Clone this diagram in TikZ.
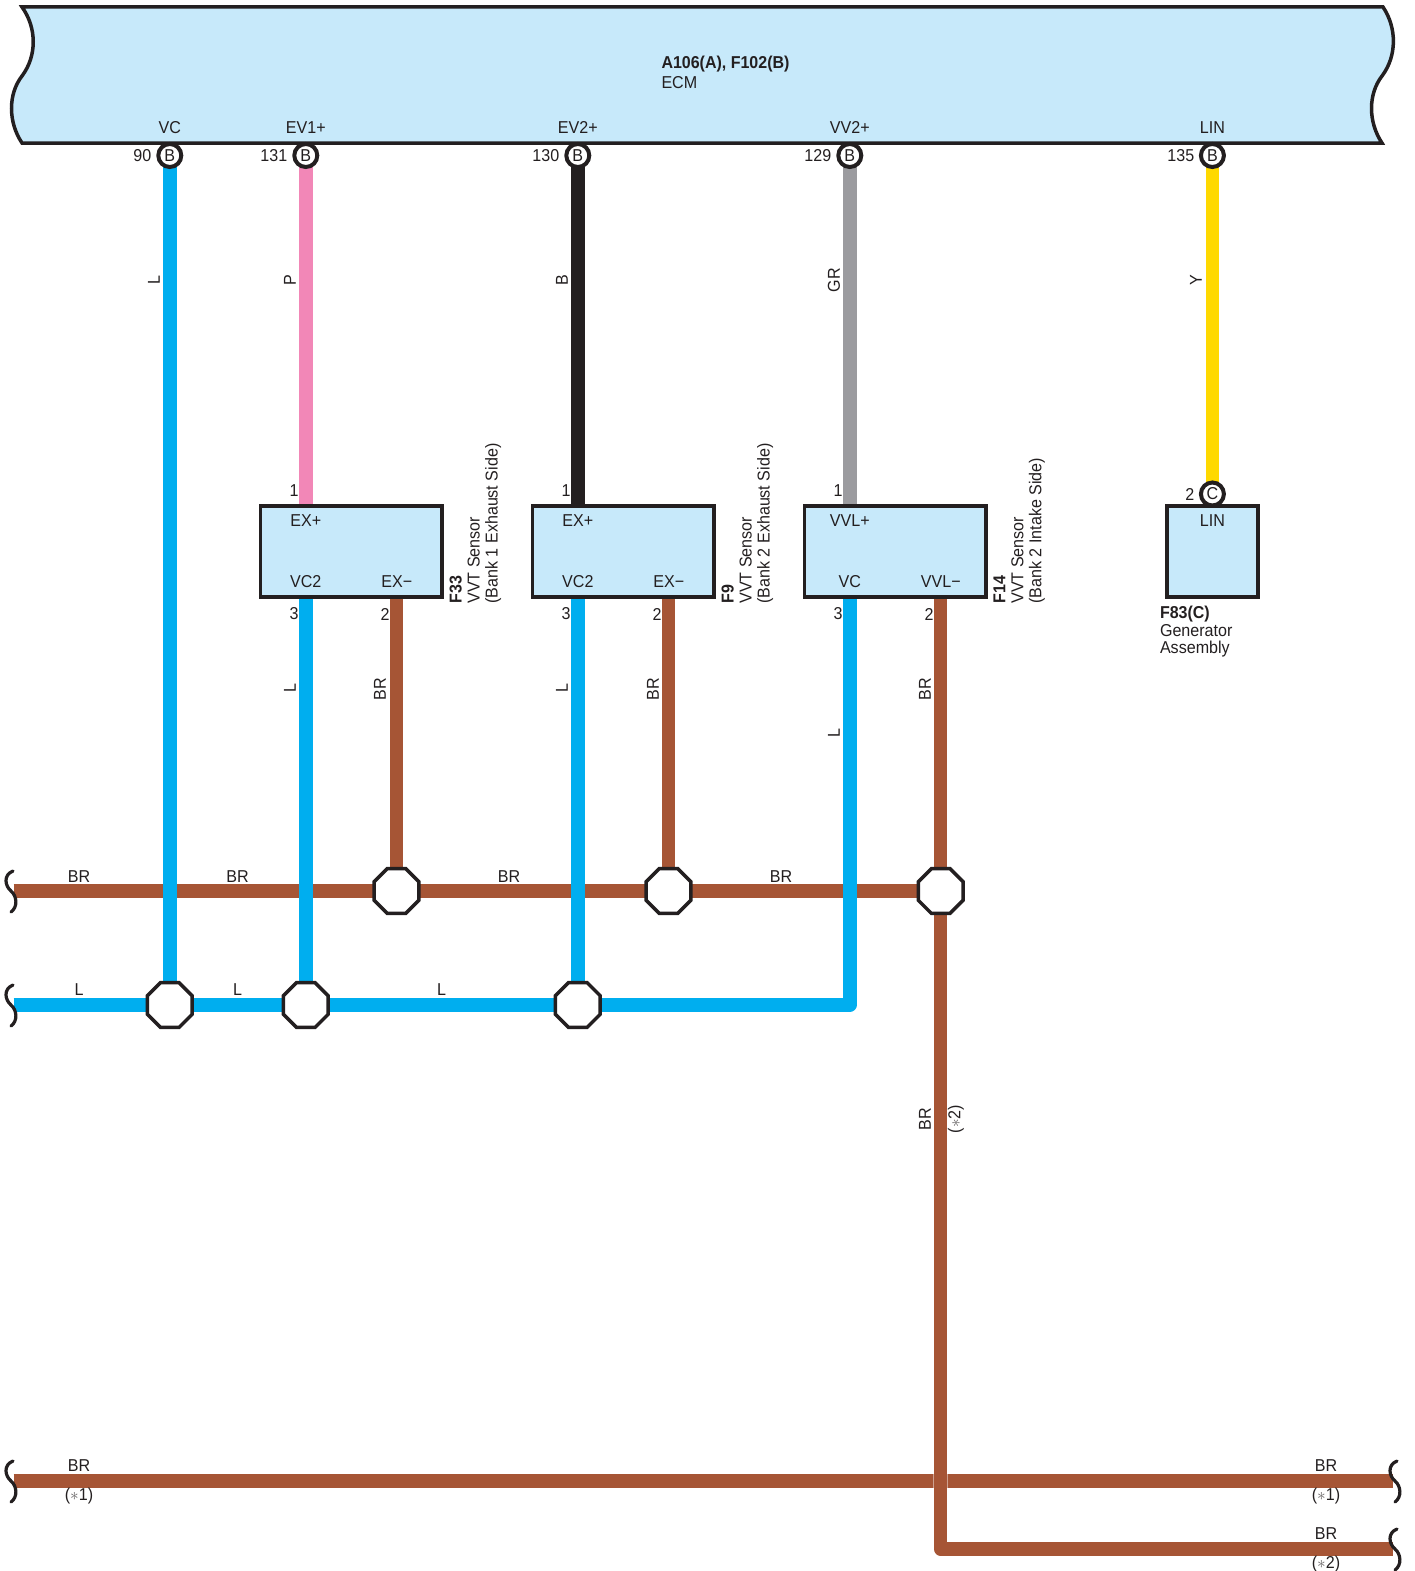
\documentclass[tikz,border=0pt]{standalone}
\usepackage{fontspec}
\setmainfont[FakeStretch=0.935,BoldFeatures={FakeStretch=0.93}]{Liberation Sans}
\usetikzlibrary{shapes.geometric,backgrounds}
\definecolor{inkc}{HTML}{231F20}
\definecolor{wblue}{HTML}{00AEEF}
\definecolor{wpink}{HTML}{F287B7}
\definecolor{wgray}{HTML}{9B9B9F}
\definecolor{wyellow}{HTML}{FFD900}
\definecolor{wbrown}{HTML}{A65535}
\definecolor{panel}{HTML}{C7E9FA}
\newcommand{\starmark}{{\fontsize{17}{17}\selectfont\color{inkc!70}$*$}}
\tikzset{
  lab/.style={font=\fontsize{17.2}{20}\selectfont,text=inkc,inner sep=0pt,outer sep=0pt},
  vlab/.style={lab,rotate=90},
  wire/.style={line width=13.5pt,line join=round},
  wireB/.style={wire,draw=wblue},
  wireP/.style={wire,draw=wpink},
  wireK/.style={wire,draw=inkc},
  wireG/.style={wire,draw=wgray},
  wireY/.style={wire,draw=wyellow},
  wireR/.style={wire,draw=wbrown},
  pinc/.style={lab,circle,draw=inkc,fill=white,line width=4pt,minimum size=23pt},
  junc/.style={regular polygon,regular polygon sides=8,draw=inkc,fill=white,line width=3.5pt,minimum size=48.5pt,inner sep=0pt,outer sep=0pt},
  unit/.style={rectangle,draw=inkc,fill=panel,line width=3.2pt,inner sep=0pt,outer sep=0pt},
  wideunit/.style={unit,minimum width=181.5pt,minimum height=91pt},
  brackline/.style={draw=inkc,line width=3.2pt,line cap=round},
  brack/.pic={\draw[brackline] (2,-20) .. controls (-8,-16) and (-6,-5) .. (0,0) .. controls (6,5) and (7,16) .. (0,21);},
  side/.style={lab,align=left,rotate=90,anchor=north west,font=\fontsize{17.2}{18}\selectfont},
}
\begin{document}
\begin{tikzpicture}[x=1pt,y=-1pt]
\useasboundingbox (0,0) rectangle (1415,1571);
% ECM
\path[fill=panel,draw=inkc,line width=3.5pt,line join=miter]
  (22,7) -- (1383,7)
  .. controls (1397,28) and (1397,56) .. (1382,76)
  .. controls (1368,94) and (1368,122) .. (1382,143)
  -- (22,143)
  .. controls (8,122) and (8,94) .. (22,76)
  .. controls (37,56) and (37,28) .. (22,7) -- cycle;
\node[lab,anchor=north west,align=left] (ecm) at (661.5,56) {\textbf{A106(A), F102(B)}\\ECM};
% pins
\node[pinc] (p1) at (169.8,155.5) {B};
\node[pinc] (p2) at (305.8,155.5) {B};
\node[pinc] (p3) at (577.8,155.5) {B};
\node[pinc] (p4) at (849.8,155.5) {B};
\node[pinc] (p5) at (1212.4,155.5) {B};
\node[pinc] (p6) at (1212.4,494) {C};
% junctions
\node[junc] (jr1) at (396.5,891) {};
\node[junc] (jr2) at (668.5,891) {};
\node[junc] (jr3) at (940.7,891) {};
\node[junc] (jl1) at (169.8,1005) {};
\node[junc] (jl2) at (305.8,1005) {};
\node[junc] (jl3) at (577.8,1005) {};
% free ends
\coordinate (ra) at (13.5,891);
\coordinate (la) at (13.5,1005);
\coordinate (lc) at (849.8,1005);
\coordinate (ba) at (13.5,1481);
\coordinate (bb) at (1393,1481);
\coordinate (bc) at (940.7,1549);
\coordinate (bd) at (1393,1549);
% units
\node[wideunit] (f33) at (351.3,551.5) {};
\node[wideunit] (f9) at (623.3,551.5) {};
\node[wideunit] (f14) at (895.3,551.5) {};
\node[unit,minimum width=91pt,minimum height=91pt] (f83) at (1212.4,551.5) {};
% wires
\begin{scope}[on background layer]
\draw[wireR] (ra) -- (jr1.center);
\draw[wireR] (jr1) -- (jr2);
\draw[wireR] (jr2) -- (jr3);
\draw[wireR] (ba) -- (bb);
\draw[wireR,draw=wbrown!55!white,line width=15pt] (940.7,1474.25) -- (940.7,1487.75);
\draw[wireR] (jr3) -- (bc) -- (bd);
\draw[wireR] (f14.south -| jr3) -- (jr3);
\draw[wireR] (f33.south -| jr1) -- (jr1);
\draw[wireR] (f9.south -| jr2) -- (jr2);
\draw[wireB] (p1) -- (jl1);
\draw[wireP] (p2) -- (p2 |- f33.north);
\draw[wireK] (p3) -- (p3 |- f9.north);
\draw[wireG] (p4) -- (p4 |- f14.north);
\draw[wireY] (p5) -- (p6);
\draw[wireB] (f33.south -| jl2) -- (jl2);
\draw[wireB] (f9.south -| jl3) -- (jl3);
\draw[wireB] (la) -- (jl1.center);
\draw[wireB] (jl1) -- (jl2);
\draw[wireB] (jl2) -- (jl3);
\draw[wireB] (jl3) -- (lc) -- (f14.south -| lc);
\end{scope}
% brackets
\pic at (11,891) {brack};
\pic at (11,1005) {brack};
\pic at (11,1481) {brack};
\pic at (1395,1481) {brack};
\pic at (1395,1549) {brack};
% pin names
\node[lab] (n1) at (169.8,127.5) {VC};
\node[lab] (n2) at (305.8,127.5) {EV1+};
\node[lab] (n3) at (577.8,127.5) {EV2+};
\node[lab] (n4) at (849.8,127.5) {VV2+};
\node[lab] (n5) at (1212.4,127.5) {LIN};
\node[lab,anchor=east] (c1) at (151.3,155.5) {90};
\node[lab,anchor=east] (c2) at (287.3,155.5) {131};
\node[lab,anchor=east] (c3) at (559.3,155.5) {130};
\node[lab,anchor=east] (c4) at (831.3,155.5) {129};
\node[lab,anchor=east] (c5) at (1194.3,155.5) {135};
\node[lab,anchor=east] (c6) at (1194.3,494) {2};
% box numbers
\node[lab] (a1) at (294,491) {1};
\node[lab] (a2) at (566,491) {1};
\node[lab] (a3) at (838,491) {1};
\node[lab] (a4) at (294,614) {3};
\node[lab] (a5) at (385,614) {2};
\node[lab] (a6) at (566,614) {3};
\node[lab] (a7) at (657,614) {2};
\node[lab] (a8) at (838,614) {3};
\node[lab] (a9) at (929,614) {2};
% box labels
\node[lab] (t1) at (305.8,521) {EX+};
\node[lab] (t2) at (305.8,582) {VC2};
\node[lab] (t3) at (396.8,582) {EX−};
\node[lab] (t4) at (577.8,521) {EX+};
\node[lab] (t5) at (577.8,582) {VC2};
\node[lab] (t6) at (668.8,582) {EX−};
\node[lab] (t7) at (849.8,521) {VVL+};
\node[lab] (t8) at (849.8,582) {VC};
\node[lab] (t9) at (940.8,582) {VVL−};
\node[lab] (t10) at (1212.4,521) {LIN};
% captions
\node[side] (s1) at (449.5,603.5) {\textbf{F33}\\VVT Sensor\\(Bank 1 Exhaust Side)};
\node[side] (s2) at (721.5,603.5) {\textbf{F9}\\VVT Sensor\\(Bank 2 Exhaust Side)};
\node[side] (s3) at (993.5,603.5) {\textbf{F14}\\VVT Sensor\\(Bank 2 Intake Side)};
\node[lab,anchor=north west,align=left,font=\fontsize{17.2}{17.7}\selectfont] (s4) at (1160,606) {\textbf{F83(C)}\\Generator\\Assembly};
% wire labels, vertical
\node[vlab] (w1) at (154,280) {L};
\node[vlab] (w2) at (290,280) {P};
\node[vlab] (w3) at (562,280) {B};
\node[vlab] (w4) at (834,280) {GR};
\node[vlab] (w5) at (1196,280) {Y};
\node[vlab] (w6) at (290,688) {L};
\node[vlab] (w7) at (380,689) {BR};
\node[vlab] (w8) at (562,688) {L};
\node[vlab] (w9) at (653,689) {BR};
\node[vlab] (w10) at (834,733) {L};
\node[vlab] (w11) at (925,689) {BR};
\node[vlab] (w12) at (925,1119) {BR};
\node[vlab] (w13) at (956,1119) {(\starmark2)};
% wire labels, horizontal
\node[lab] (h1) at (79,876.7) {BR};
\node[lab] (h2) at (237.5,876.7) {BR};
\node[lab] (h3) at (509,876.7) {BR};
\node[lab] (h4) at (781,876.7) {BR};
\node[lab] (h5) at (79,989.7) {L};
\node[lab] (h6) at (237.5,989.7) {L};
\node[lab] (h7) at (441.5,989.7) {L};
\node[lab] (h8) at (79,1465.7) {BR};
\node[lab] (h9) at (79,1495.7) {(\starmark1)};
\node[lab] (h10) at (1326,1465.7) {BR};
\node[lab] (h11) at (1326,1495.7) {(\starmark1)};
\node[lab] (h12) at (1326,1533.7) {BR};
\node[lab] (h13) at (1326,1563.7) {(\starmark2)};
\end{tikzpicture}
\end{document}
